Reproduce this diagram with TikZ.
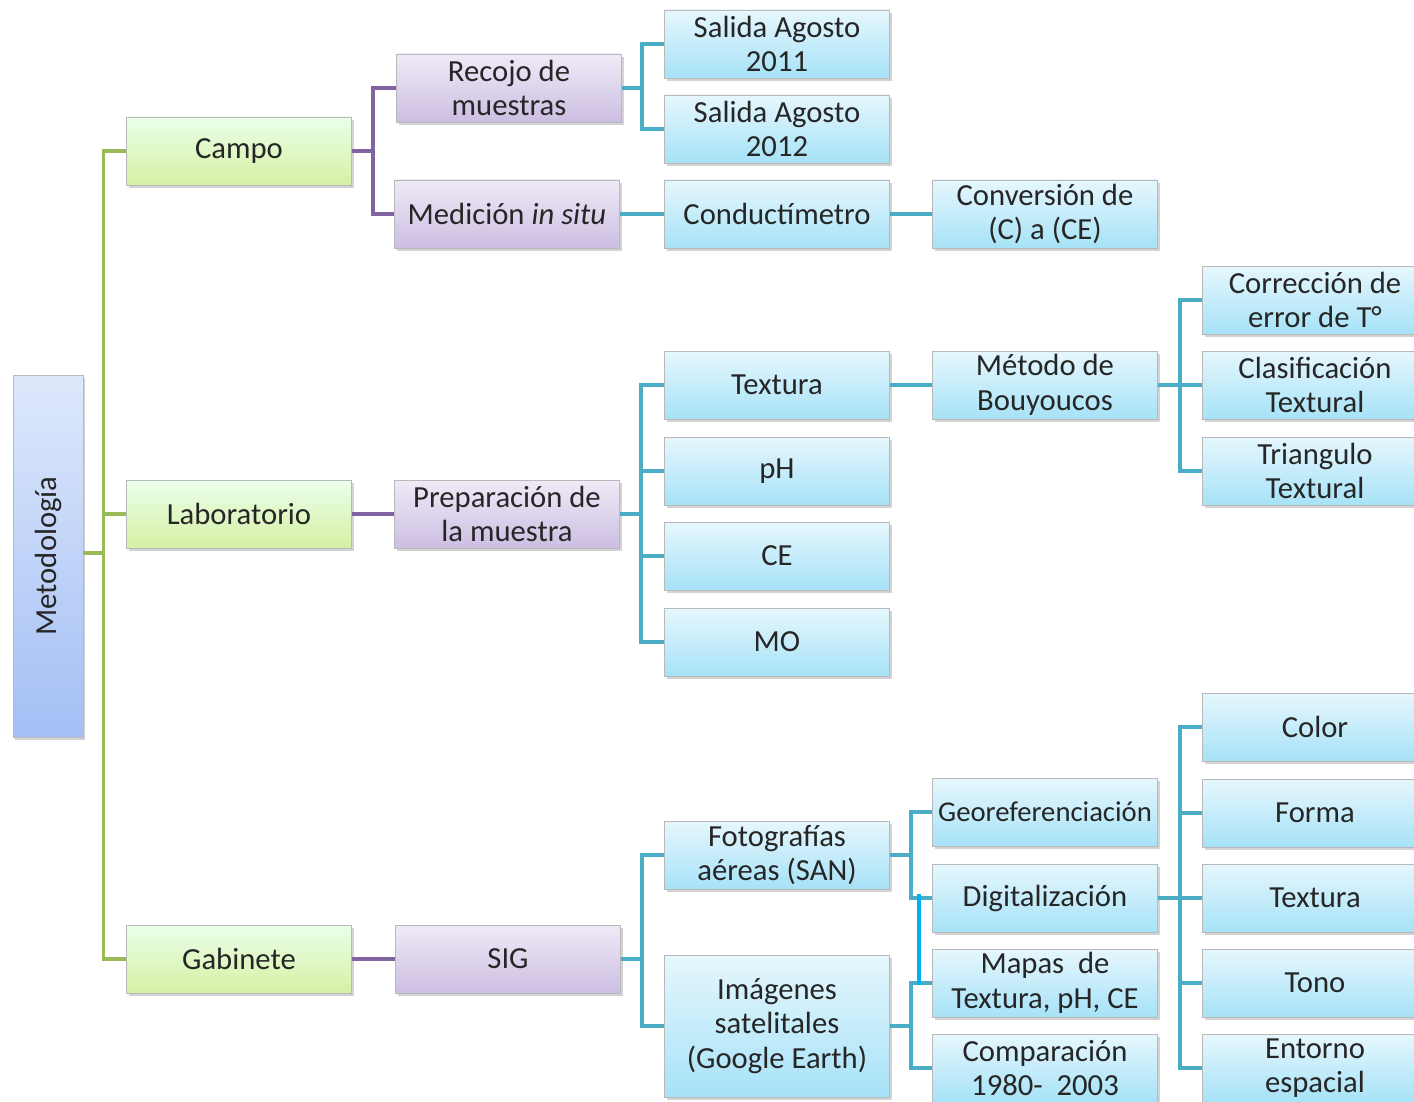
\documentclass[tikz,border=0pt]{standalone}
\usepackage{fontspec}
\setmainfont{Carlito}
\usetikzlibrary{shadows,calc}
\definecolor{greenline}{HTML}{9BBB59}
\definecolor{purpleline}{HTML}{8064A2}
\definecolor{cyanline}{HTML}{4BACC6}
\definecolor{brightline}{HTML}{00B0F0}
\tikzset{
	box/.style={draw=gray!55, line width=.6pt, align=center, inner sep=0pt,
		minimum width=168.75pt, minimum height=51pt, text=black!85,
		font=\fontsize{23}{26}\selectfont,
		drop shadow={shadow xshift=1.5pt, shadow yshift=-2pt, opacity=.35, fill=gray}},
	greenbox/.style={box, top color=green!8!white, bottom color={rgb,255:red,214;green,240;blue,163}},
	purplebox/.style={box, top color={rgb,255:red,240;green,234;blue,247}, bottom color={rgb,255:red,204;green,190;blue,226}},
	cyanbox/.style={box, top color={rgb,255:red,230;green,247;blue,253}, bottom color={rgb,255:red,166;green,226;blue,247}},
	rootbox/.style={box, minimum width=52.5pt, minimum height=271.5pt,
		top color={rgb,255:red,222;green,232;blue,251}, bottom color={rgb,255:red,163;green,191;blue,245}},
	gline/.style={draw=greenline, line width=2.4pt},
	pline/.style={draw=purpleline, line width=2.4pt},
	cline/.style={draw=cyanline, line width=2.4pt}
}
\begin{document}
\begin{tikzpicture}[x=.75pt, y=-.75pt]
	\useasboundingbox (0,0) rectangle (1414,1102);
	\clip (0,0) rectangle (1414,1102);
	% raiz
	\node[rootbox] (met) at (48,556) {\rotatebox{90}{Metodología}};
	% primer nivel
	\node[greenbox] (campo) at (239,151) {Campo};
	\node[greenbox] (lab) at (239,514) {Laboratorio};
	\node[greenbox] (gab) at (239,959) {Gabinete};
	% segundo nivel
	\node[purplebox] (rec) at (509,88) {Recojo de\\muestras};
	\node[purplebox] (med) at (507,214) {Medición \textit{in situ}};
	\node[purplebox] (prep) at (507,514) {Preparación de\\la muestra};
	\node[purplebox] (sig) at (508,959) {SIG};
	% tercer nivel
	\node[cyanbox] (sal1) at (777,44) {Salida Agosto\\2011};
	\node[cyanbox] (sal2) at (777,129) {Salida Agosto\\2012};
	\node[cyanbox] (cond) at (777,214) {Conductímetro};
	\node[cyanbox] (tex) at (777,385) {Textura};
	\node[cyanbox] (ph) at (777,471) {pH};
	\node[cyanbox] (ce) at (777,556) {CE};
	\node[cyanbox] (mo) at (777,642) {MO};
	\node[cyanbox] (foto) at (777,855) {Fotografías\\aéreas (SAN)};
	\node[cyanbox, minimum height=106.5pt] (imag) at (777,1026) {Imágenes\\satelitales\\(Google Earth)};
	% cuarto nivel
	\node[cyanbox] (conv) at (1045,214) {Conversión de\\(C) a (CE)};
	\node[cyanbox] (bou) at (1045,385) {Método de\\Bouyoucos};
	\node[cyanbox, font=\fontsize{21.5}{26}\selectfont] (geo) at (1045,812) {Georeferenciación};
	\node[cyanbox] (digi) at (1045,898) {Digitalización};
	\node[cyanbox] (mapas) at (1045,983) {Mapas\ \ de\\Textura, pH, CE};
	\node[cyanbox] (comp) at (1045,1068) {Comparación\\1980-\ \ 2003};
	% quinto nivel
	\node[cyanbox] (cor) at (1315,300) {Corrección de\\error de T°};
	\node[cyanbox] (cla) at (1315,385) {Clasificación\\Textural};
	\node[cyanbox] (tri) at (1315,471) {Triangulo\\Textural};
	\node[cyanbox] (color) at (1315,727) {Color};
	\node[cyanbox] (forma) at (1315,813) {Forma};
	\node[cyanbox] (tex2) at (1315,898) {Textura};
	\node[cyanbox] (tono) at (1315,983) {Tono};
	\node[cyanbox] (ent) at (1315,1068) {Entorno\\espacial};
	% conectores
	\foreach \n in {campo, lab, gab}
		\draw[gline] ($(met.east)+(0,-3)$) -- ++(20,0) |- (\n.west);
	\foreach \n in {rec, med}
		\draw[pline] (campo.east) -- ++(21,0) |- (\n.west);
	\draw[pline] (lab.east) -- (prep.west);
	\draw[pline] (gab.east) -- (sig.west);
	\foreach \n in {sal1, sal2}
		\draw[cline] (rec.east) -- ++(20,0) |- (\n.west);
	\draw[cline] (med.east) -- (cond.west);
	\draw[cline] (cond.east) -- (conv.west);
	\foreach \n in {tex, ph, ce, mo}
		\draw[cline] (prep.east) -- ++(21,0) |- (\n.west);
	\draw[cline] (tex.east) -- (bou.west);
	\foreach \n in {cor, cla, tri}
		\draw[cline] (bou.east) -- ++(22,0) |- (\n.west);
	\foreach \n in {foto, imag}
		\draw[cline] (sig.east) -- ++(21,0) |- (\n.west);
	\foreach \n in {geo, digi}
		\draw[cline] (foto.east) -- ++(21,0) |- (\n.west);
	\foreach \n in {mapas, comp}
		\draw[cline] (imag.east) -- ++(21,0) |- (\n.west);
	\foreach \n in {color, forma, tex2, tono, ent}
		\draw[cline] (digi.east) -- ++(22,0) |- (\n.west);
	\draw[draw=brightline, line width=3.2pt] ($(digi.west)+(-13,-4)$) -- ($(mapas.west)+(-13,2)$);
\end{tikzpicture}
\end{document}
